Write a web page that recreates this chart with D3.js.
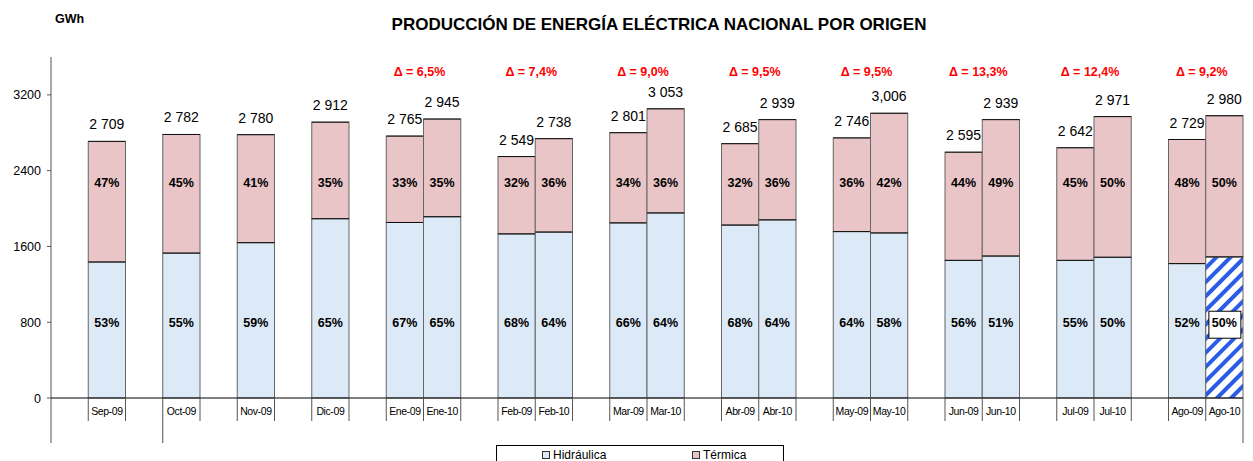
<!DOCTYPE html>
<html lang="es">
<head>
  <meta charset="UTF-8" />
  <title>Producción de energía eléctrica nacional por origen</title>
  <script src="https://d3js.org/d3.v7.min.js"></script>
  <style>
    body { margin: 0; background: #fff; }
    svg { display: block; font-family: 'Liberation Sans', Arial, sans-serif; }
  </style>
</head>
<body>
  <div id="chart"></div>
  <script>
    // slots of the category axis ("" = empty gap slot)
    const slots = ["", "Sep-09", "", "Oct-09", "", "Nov-09", "", "Dic-09", "",
      "Ene-09", "Ene-10", "", "Feb-09", "Feb-10", "", "Mar-09", "Mar-10", "",
      "Abr-09", "Abr-10", "", "May-09", "May-10", "", "Jun-09", "Jun-10", "",
      "Jul-09", "Jul-10", "", "Ago-09", "Ago-10"];

    const months = ["Sep-09", "Oct-09", "Nov-09", "Dic-09", "Ene-09", "Ene-10", "Feb-09", "Feb-10",
      "Mar-09", "Mar-10", "Abr-09", "Abr-10", "May-09", "May-10", "Jun-09", "Jun-10",
      "Jul-09", "Jul-10", "Ago-09", "Ago-10"];
    const hidraulica = [1436, 1530, 1640, 1893, 1853, 1914, 1733, 1752, 1849, 1954,
      1826, 1881, 1757, 1743, 1453, 1499, 1453, 1486, 1419, 1490];
    const termica = [1273, 1252, 1140, 1019, 912, 1031, 816, 986, 952, 1099,
      859, 1058, 989, 1263, 1142, 1440, 1189, 1485, 1310, 1490];
    const totalLabels = ["2 709", "2 782", "2 780", "2 912", "2 765", "2 945", "2 549", "2 738",
      "2 801", "3 053", "2 685", "2 939", "2 746", "3,006", "2 595", "2 939",
      "2 642", "2 971", "2 729", "2 980"];
    const pctHidro = ["53%", "55%", "59%", "65%", "67%", "65%", "68%", "64%", "66%", "64%",
      "68%", "64%", "64%", "58%", "56%", "51%", "55%", "50%", "52%", "50%"];
    const pctTerm = ["47%", "45%", "41%", "35%", "33%", "35%", "32%", "36%", "34%", "36%",
      "32%", "36%", "36%", "42%", "44%", "49%", "45%", "50%", "48%", "50%"];

    // year-on-year change shown above each pair (label on the "-10" month)
    const deltaMonths = ["Ene-10", "Feb-10", "Mar-10", "Abr-10", "May-10", "Jun-10", "Jul-10", "Ago-10"];
    const deltas = ["6,5%", "7,4%", "9,0%", "9,5%", "9,5%", "13,3%", "12,4%", "9,2%"];

    const yTicks = [0, 800, 1600, 2400, 3200];
    const estimated = "Ago-10";

    const width = 1253, height = 461;
    const left = 51, right = 1243, zeroY = 398, topY = 57;

    const x = d3.scaleBand().domain(slots.map((d, i) => i)).range([left, right]).padding(0);
    const slotOf = m => slots.indexOf(m);
    const y = d3.scaleLinear().domain([0, 3600]).range([zeroY, topY]);

    const svg = d3.select("#chart").append("svg")
      .attr("width", width).attr("height", height);

    const defs = svg.append("defs");
    const pat = defs.append("pattern")
      .attr("id", "stripes")
      .attr("patternUnits", "userSpaceOnUse")
      .attr("width", 10).attr("height", 10)
      .attr("patternTransform", "rotate(-45)");
    pat.append("rect").attr("width", 10).attr("height", 10).attr("fill", "#fff");
    pat.append("rect").attr("width", 10).attr("height", 4).attr("fill", "#2a5ce8");

    // title
    svg.append("text")
      .attr("x", 659).attr("y", 30)
      .attr("text-anchor", "middle")
      .attr("font-size", 17).attr("font-weight", "bold")
      .text("PRODUCCIÓN DE ENERGÍA ELÉCTRICA NACIONAL POR ORIGEN");

    svg.append("text")
      .attr("x", 55).attr("y", 23)
      .attr("font-size", 12.5).attr("font-weight", "bold")
      .text("GWh");

    // y axis
    svg.append("line")
      .attr("x1", left).attr("x2", left)
      .attr("y1", topY).attr("y2", 443)
      .attr("stroke", "#555");

    const yt = svg.append("g");
    yt.selectAll("line").data(yTicks).join("line")
      .attr("x1", left - 4).attr("x2", left)
      .attr("y1", d => y(d)).attr("y2", d => y(d))
      .attr("stroke", "#555");
    yt.selectAll("text").data(yTicks).join("text")
      .attr("x", 41).attr("y", d => y(d) + 4.5)
      .attr("text-anchor", "end")
      .attr("font-size", 12.5)
      .text(d => d);

    // bars
    const bars = svg.append("g");
    months.forEach((m, i) => {
      const bx = x(slotOf(m)), bw = x.bandwidth();
      const h0 = hidraulica[i], t0 = termica[i];
      bars.append("rect")
        .attr("x", bx).attr("y", y(h0))
        .attr("width", bw).attr("height", y(0) - y(h0))
        .attr("fill", m === estimated ? "url(#stripes)" : "#dce9f6")
        .attr("stroke", "#666").attr("stroke-width", 1);
      bars.append("rect")
        .attr("x", bx).attr("y", y(h0 + t0))
        .attr("width", bw).attr("height", y(h0) - y(h0 + t0))
        .attr("fill", "#e9c5c7")
        .attr("stroke", "#666").attr("stroke-width", 1);
      // darker top edges
      bars.append("line")
        .attr("x1", bx).attr("x2", bx + bw)
        .attr("y1", y(h0 + t0)).attr("y2", y(h0 + t0))
        .attr("stroke", "#111");
      bars.append("line")
        .attr("x1", bx).attr("x2", bx + bw)
        .attr("y1", y(h0)).attr("y2", y(h0))
        .attr("stroke", "#111");

      const cx = bx + bw / 2;
      bars.append("text")
        .attr("x", cx).attr("y", y(h0 + t0) - 12)
        .attr("text-anchor", "middle")
        .attr("font-size", 14)
        .text(totalLabels[i]);

      bars.append("text")
        .attr("x", cx).attr("y", y(2280) + 5)
        .attr("text-anchor", "middle")
        .attr("font-size", 12.5).attr("font-weight", "bold")
        .text(pctTerm[i]);

      if (m === estimated) {
        bars.append("rect")
          .attr("x", cx - 15.5).attr("y", y(800) - 11)
          .attr("width", 32).attr("height", 27)
          .attr("fill", "#fff").attr("stroke", "#000");
      }
      bars.append("text")
        .attr("x", cx).attr("y", y(800) + 5)
        .attr("text-anchor", "middle")
        .attr("font-size", 12.5).attr("font-weight", "bold")
        .text(pctHidro[i]);
    });

    // delta labels
    deltaMonths.forEach((m, i) => {
      const cx = x(slotOf(m)) - 4;
      svg.append("text")
        .attr("x", cx).attr("y", 76)
        .attr("text-anchor", "middle")
        .attr("font-size", 12.5).attr("font-weight", "bold")
        .attr("fill", "#ff0000")
        .text("Δ = " + deltas[i]);
    });

    // x axis line and category separators
    svg.append("line")
      .attr("x1", left).attr("x2", right)
      .attr("y1", zeroY).attr("y2", zeroY)
      .attr("stroke", "#000");

    const edges = new Set();
    months.forEach(m => {
      const s = slotOf(m);
      edges.add(x(s));
      edges.add(x(s) + x.bandwidth());
    });
    const longEdges = [x(slotOf("Oct-09")), right];
    svg.append("g").selectAll("line").data([...edges]).join("line")
      .attr("x1", d => d).attr("x2", d => d)
      .attr("y1", zeroY).attr("y2", d => longEdges.some(e => Math.abs(e - d) < 0.5) ? 443 : 421)
      .attr("stroke", "#555");

    svg.append("g").selectAll("text").data(months).join("text")
      .attr("x", m => x(slotOf(m)) + x.bandwidth() / 2)
      .attr("y", 415)
      .attr("text-anchor", "middle")
      .attr("font-size", 10.5)
      .attr("letter-spacing", -0.4)
      .text(m => m);

    // legend
    const lg = svg.append("g");
    lg.append("rect")
      .attr("x", 496.5).attr("y", 445.5)
      .attr("width", 287).attr("height", 30)
      .attr("fill", "#fff").attr("stroke", "#000");
    const legendItems = [["Hidráulica", "#dce9f6", 542], ["Térmica", "#e9c5c7", 692]];
    legendItems.forEach(([name, col, lx]) => {
      lg.append("rect")
        .attr("x", lx + 0.5).attr("y", 451.5)
        .attr("width", 7).attr("height", 7)
        .attr("fill", col).attr("stroke", "#333");
      lg.append("text")
        .attr("x", lx + 11).attr("y", 459)
        .attr("font-size", 12)
        .text(name);
    });
  </script>
</body>
</html>
